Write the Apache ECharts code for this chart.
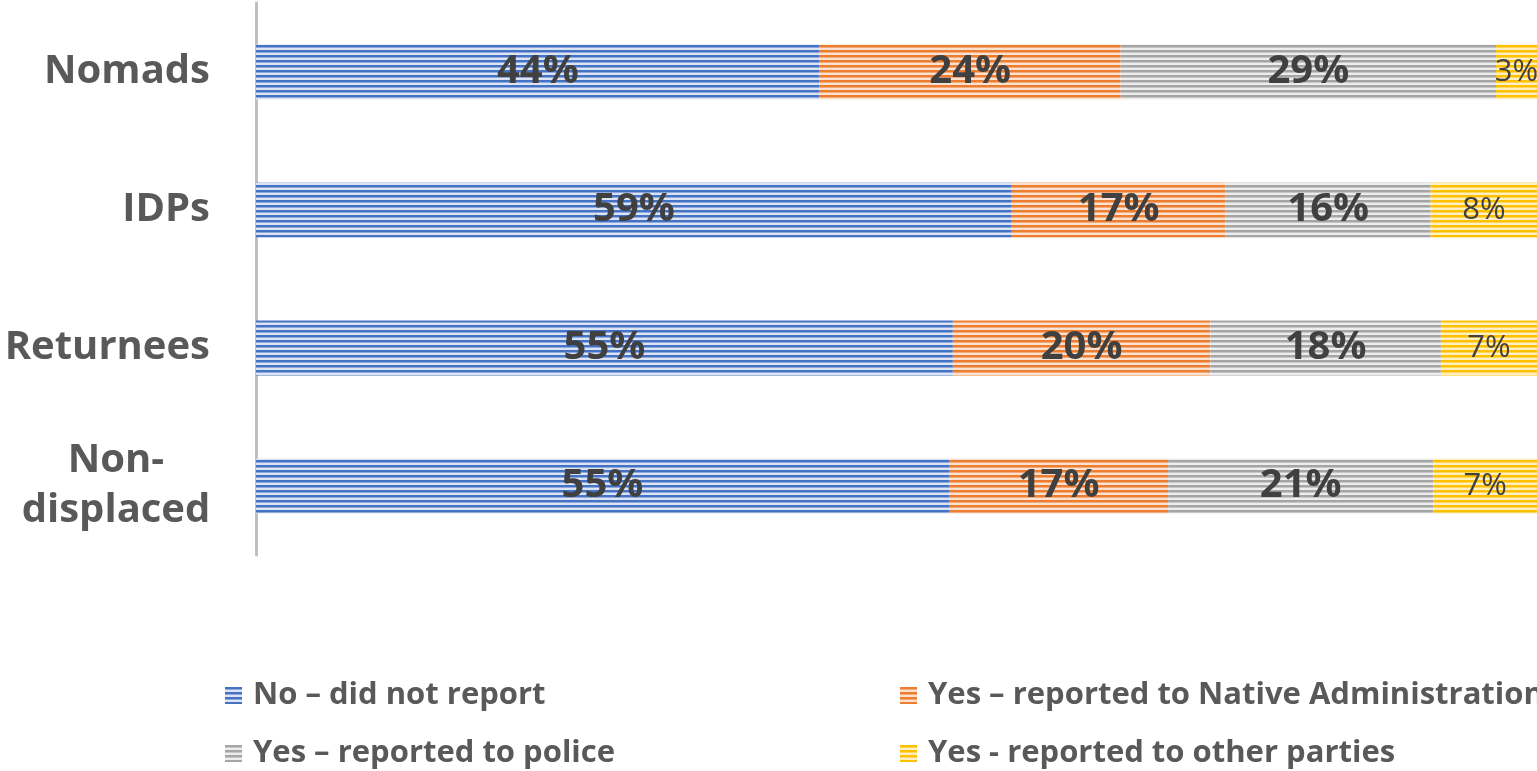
<!DOCTYPE html>
<html>
<head>
<meta charset="utf-8">
<script src="https://cdn.jsdelivr.net/npm/echarts@6/dist/echarts.min.js"></script>
<style>
  html, body { margin: 0; padding: 0; background: #fff; }
  #chart { width: 1537px; height: 771px; }
</style>
</head>
<body>
<div id="chart"></div>
<script>
// categories, top to bottom
var groups = ['Nomads', 'IDPs', 'Returnees', 'Non-displaced'];

// segment widths (percent of total)
var noReport = [44.0, 59.0, 54.4, 54.1];
var nativeAdmin = [23.5, 16.7, 20.1, 17.1];
var police = [29.3, 16.0, 18.0, 20.7];
var otherParties = [3.2, 8.3, 7.5, 8.1];

// the numbers printed on the bars
var noReportLabels = ['44%', '59%', '55%', '55%'];
var nativeAdminLabels = ['24%', '17%', '20%', '17%'];
var policeLabels = ['29%', '16%', '18%', '21%'];
var otherPartiesLabels = ['3%', '8%', '7%', '7%'];

var seriesNames = [
  'No \u2013 did not report',
  'Yes \u2013 reported to Native Administration',
  'Yes \u2013 reported to police',
  'Yes - reported to other parties'
];

// horizontal stripe fill like the office chart
function stripes(dark, mid, light) {
  var c = document.createElement('canvas');
  c.width = 4;
  c.height = 5;
  var ctx = c.getContext('2d');
  var rows = [dark, dark, mid, light, light];
  for (var i = 0; i < rows.length; i++) {
    ctx.fillStyle = rows[i];
    ctx.fillRect(0, i, 4, 1);
  }
  return { image: c, repeat: 'repeat' };
}

var fills = [
  stripes('#4472C4', '#8FA9DC', '#DCE4F4'),
  stripes('#ED7D31', '#F4AB7A', '#FBE1CF'),
  stripes('#A5A5A5', '#C6C6C6', '#EDEDED'),
  stripes('#FFC000', '#FFD65C', '#FFF0C2')
];

var font = '"Open Sans", "Liberation Sans", sans-serif';

function makeSeries(idx, values, labels, big) {
  return {
    name: seriesNames[idx],
    type: 'bar',
    stack: 'total',
    barWidth: 55,
    data: values,
    itemStyle: { color: fills[idx] },
    label: {
      show: true,
      position: 'inside',
      formatter: function (p) { return labels[p.dataIndex]; },
      color: '#404040',
      fontFamily: font,
      fontWeight: big ? 'bold' : 'normal',
      fontSize: big ? 40 : 31
    },
    emphasis: { disabled: true }
  };
}

function legendAt(name, left, top) {
  return {
    data: [name],
    left: left,
    top: top,
    itemWidth: 17,
    itemHeight: 17,
    itemGap: 0,
    icon: 'rect',
    textStyle: {
      fontFamily: font,
      fontWeight: 'bold',
      fontSize: 31,
      color: '#595959',
      padding: [0, 0, 0, 6]
    }
  };
}

var chart = echarts.init(document.getElementById('chart'), null, { renderer: 'canvas' });

chart.setOption({
  animation: false,
  grid: { left: 256, top: 3, width: 1284, height: 552, containLabel: false },
  xAxis: {
    type: 'value',
    min: 0,
    max: 100,
    show: false
  },
  yAxis: {
    type: 'category',
    data: groups,
    inverse: true,
    axisLine: { show: true, lineStyle: { color: '#BFBFBF', width: 3 } },
    axisTick: { show: false },
    axisLabel: {
      margin: 46,
      color: '#595959',
      fontFamily: font,
      fontWeight: 'bold',
      fontSize: 40,
      lineHeight: 50,
      formatter: function (v) {
        if (v === 'Non-displaced') return '{c|Non-}\n{c|displaced}';
        return v;
      },
      rich: {
        c: {
          width: 188,
          align: 'center',
          color: '#595959',
          fontFamily: font,
          fontWeight: 'bold',
          fontSize: 40,
          lineHeight: 50
        }
      }
    }
  },
  legend: [
    legendAt(seriesNames[0], 220, 675),
    legendAt(seriesNames[1], 895, 675),
    legendAt(seriesNames[2], 220, 733),
    legendAt(seriesNames[3], 895, 733)
  ],
  series: [
    makeSeries(0, noReport, noReportLabels, true),
    makeSeries(1, nativeAdmin, nativeAdminLabels, true),
    makeSeries(2, police, policeLabels, true),
    makeSeries(3, otherParties, otherPartiesLabels, false)
  ]
});
</script>
</body>
</html>
